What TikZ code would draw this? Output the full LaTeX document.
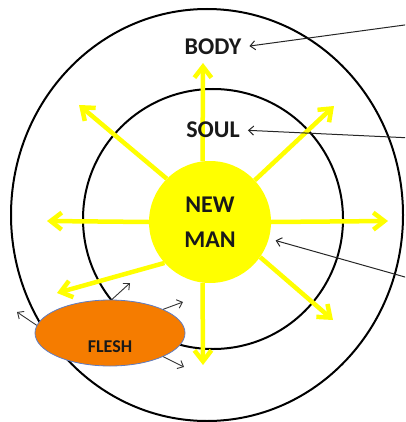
\documentclass[tikz,border=0pt]{standalone}
\usepackage{fontspec}
\setsansfont{Carlito}
\usetikzlibrary{arrows.meta,positioning,shapes.geometric}
\definecolor{sunyellow}{RGB}{255,255,0}
\definecolor{fleshorange}{RGB}{245,124,0}
\definecolor{fleshblue}{RGB}{95,125,195}
\tikzset{
  ring/.style  = {draw=black, line width=2pt},
  lbl/.style   = {font=\sffamily\bfseries\fontsize{24}{35}\selectfont,
                  align=center, inner sep=1pt, text=black!90},
  slbl/.style  = {font=\sffamily\bfseries\fontsize{18}{20}\selectfont,
                  inner sep=1pt, text=black!90},
  ray/.style   = {draw=sunyellow, line width=4.5pt,
                  -{Straight Barb[length=11pt,width=17pt]}},
  ptr/.style   = {draw=black!85, line width=1pt, shorten >=7pt,
                  -{Straight Barb[length=5pt,width=9pt]}},
  sml/.style   = {draw=black!80, line width=0.9pt,
                  -{Straight Barb[length=5pt,width=9pt]}},
}
\begin{document}
\begin{tikzpicture}[x=1pt,y=-1pt]
  \useasboundingbox (0,0) rectangle (405,422);
  \clip (0,0) rectangle (405,422);
  % body and soul rings
  \draw[ring] (207,215) ellipse [x radius=196, y radius=206];
  \draw[ring] (213,219) circle [radius=130];
  % rays
  \coordinate (rayN)  at (203,63);
  \coordinate (rayNE) at (334,106);
  \coordinate (rayE)  at (388,221);
  \coordinate (raySE) at (333,320);
  \coordinate (rayS)  at (203,365);
  \coordinate (raySW) at (57,293);
  \coordinate (rayW)  at (47,221);
  \coordinate (rayNW) at (79,105);
  \node[circle, fill=sunyellow, minimum size=122pt, inner sep=0pt, lbl] (newman) at (210,222) {NEW\\MAN};
  \foreach \a/\t in {97/N, 43/NE, 0/E, -35/SE, 263/S, 222/SW, 180/W, 135/NW}
    \draw[ray] (newman.\a) -- (ray\t);
  \node[lbl] (body) at (213,47) {BODY};
  \node[lbl] (soul) at (213,130) {SOUL};
  % flesh
  \node[ellipse, fill=fleshorange, draw=fleshblue, line width=0.8pt,
        minimum width=150pt, minimum height=66pt] (flesh) at (110,333) {};
  \node[slbl] (fleshtxt) at (110,347) {FLESH};
  \coordinate (fl1) at (17,312);
  \coordinate (fl2) at (130,283);
  \coordinate (fl3) at (183,302);
  \coordinate (fl4) at (184,367);
  \draw[sml] (flesh.174) -- (fl1);
  \draw[sml] (flesh.87) -- (fl2);
  \draw[sml] (flesh.24) -- (fl3);
  \draw[sml] (flesh.-24) -- (fl4);
  % pointers from the right
  \coordinate (pbody) at (412,24);
  \coordinate (psoul) at (412,138);
  \coordinate (pman)  at (412,279);
  \draw[ptr] (pbody) -- (body.east);
  \draw[ptr] (psoul) -- (soul.east);
  \draw[ptr] (pman) -- (newman);
\end{tikzpicture}
\end{document}
